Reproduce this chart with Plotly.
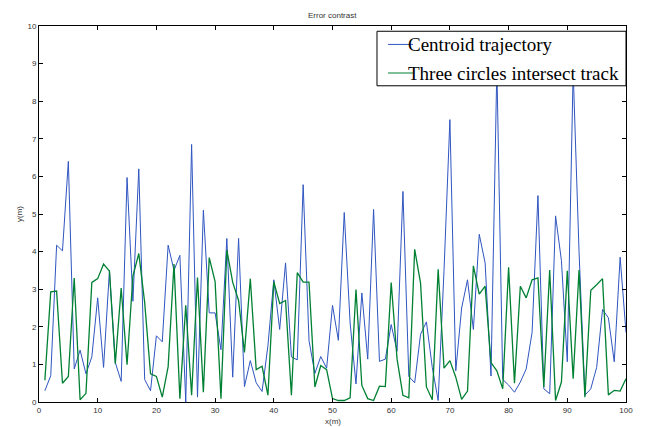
import plotly.graph_objects as go

x_vals = list(range(1, 101))

centroid = [0.30, 0.70, 4.17, 4.02, 6.40, 0.88, 1.38, 0.75, 1.20, 2.77,
            0.92, 3.50, 1.05, 0.55, 5.97, 2.68, 6.20, 0.60, 0.30, 1.76,
            1.60, 4.17, 3.50, 3.90, 0.00, 6.85, 0.13, 5.10, 2.37, 2.37,
            1.39, 4.35, 0.66, 4.35, 0.41, 1.10, 0.51, 0.28, 1.50, 3.25,
            1.93, 3.70, 1.20, 1.12, 5.78, 1.63, 0.76, 1.21, 0.90, 2.57,
            1.64, 5.04, 2.10, 0.48, 2.90, 1.14, 5.12, 1.08, 1.14, 2.06,
            1.35, 5.60, 0.68, 0.51, 1.80, 2.13, 0.92, 0.04, 3.50, 7.51,
            0.83, 2.50, 3.25, 1.93, 4.46, 3.70, 0.69, 8.90, 0.60, 0.45,
            0.26, 0.53, 0.88, 1.85, 5.49, 0.35, 0.22, 4.95, 3.76, 1.07,
            8.80, 4.00, 0.18, 0.35, 0.92, 2.46, 2.24, 1.07, 3.85, 1.85]

three_circles = [0.58, 2.93, 2.95, 0.50, 0.68, 3.30, 0.06, 0.23, 3.18, 3.28,
                 3.67, 3.48, 1.02, 3.03, 0.99, 3.35, 3.95, 2.65, 0.75, 0.68,
                 0.13, 0.94, 3.67, 0.09, 2.57, 0.18, 3.31, 0.26, 3.84, 3.20,
                 0.09, 4.04, 3.18, 2.70, 1.32, 3.28, 0.86, 0.95, 0.18, 3.20,
                 2.62, 2.70, 0.18, 3.44, 3.19, 3.19, 0.40, 0.97, 0.86, 0.09,
                 0.04, 0.04, 0.11, 2.99, 0.44, 0.09, 0.04, 0.42, 0.41, 3.18,
                 1.14, 0.18, 0.11, 4.06, 3.16, 0.40, 0.06, 3.53, 0.90, 1.10,
                 0.66, 0.07, 0.29, 3.62, 2.87, 3.08, 1.05, 0.83, 0.35, 3.58,
                 0.50, 3.08, 2.77, 3.25, 3.30, 0.40, 3.51, 0.04, 0.53, 3.49,
                 0.62, 3.51, 0.13, 2.97, 3.12, 3.28, 0.19, 0.31, 0.29, 0.62]

series_names = ["Centroid trajectory", "Three circles intersect track"]
series_colors = ["#2f55c0", "#008033"]

x_ticks = [0, 10, 20, 30, 40, 50, 60, 70, 80, 90, 100]
y_ticks = [0, 1, 2, 3, 4, 5, 6, 7, 8, 9, 10]

fig = go.Figure()
fig.add_trace(go.Scatter(x=x_vals, y=centroid, mode="lines",
                         name=series_names[0], showlegend=False,
                         line=dict(color=series_colors[0], width=1)))
fig.add_trace(go.Scatter(x=x_vals, y=three_circles, mode="lines",
                         name=series_names[1], showlegend=False,
                         line=dict(color=series_colors[1], width=1.3)))

axis_common = dict(showline=True, linecolor="black", linewidth=1, mirror="ticks",
                   ticks="inside", ticklen=4, tickcolor="black", showgrid=False,
                   zeroline=False,
                   tickfont=dict(family="Liberation Sans", size=8, color="#333333"))

small_font = dict(family="Liberation Sans", size=8, color="#333333")

fig.update_layout(
    width=645, height=427,
    margin=dict(l=39, r=19, t=26, b=22),
    paper_bgcolor="white", plot_bgcolor="white",
    showlegend=False,
    xaxis=dict(range=[0, 100], tickvals=x_ticks, **axis_common),
    yaxis=dict(range=[0, 10], tickvals=y_ticks, **axis_common),
)

# Legend box (MATLAB-style, drawn over the lines)
fig.add_shape(type="rect", xref="paper", yref="paper",
              x0=0.5758, x1=1.0, y0=0.841, y1=0.986,
              fillcolor="white", line=dict(color="black", width=1), layer="above")
legend_rows_y = [0.951, 0.875]
for name, color, yy in zip(series_names, series_colors, legend_rows_y):
    fig.add_shape(type="line", xref="paper", yref="paper",
                  x0=0.5945, x1=0.6371, y0=yy, y1=yy,
                  line=dict(color=color, width=1), layer="above")
    fig.add_annotation(text=name, x=0.6286, y=yy, xref="paper", yref="paper",
                       xanchor="left", yanchor="middle", showarrow=False,
                       borderpad=0, xshift=-1,
                       font=dict(family="Liberation Serif", size=19, color="black"))

fig.add_annotation(text="Error contrast", x=0.5, y=1.0, xref="paper", yref="paper",
                   yanchor="middle", yshift=11, showarrow=False, font=small_font)
fig.add_annotation(text="x(m)", x=0.5, y=0, xref="paper", yref="paper",
                   yanchor="middle", yshift=-19, showarrow=False, borderpad=0,
                   font=small_font)
fig.add_annotation(text="y(m)", x=0, y=0.5, xref="paper", yref="paper",
                   xanchor="center", xshift=-20, textangle=-90, showarrow=False,
                   font=small_font)

fig.write_html("out.html", config={"displayModeBar": False},
               post_script="document.body.style.margin='0';document.body.style.padding='0';")
